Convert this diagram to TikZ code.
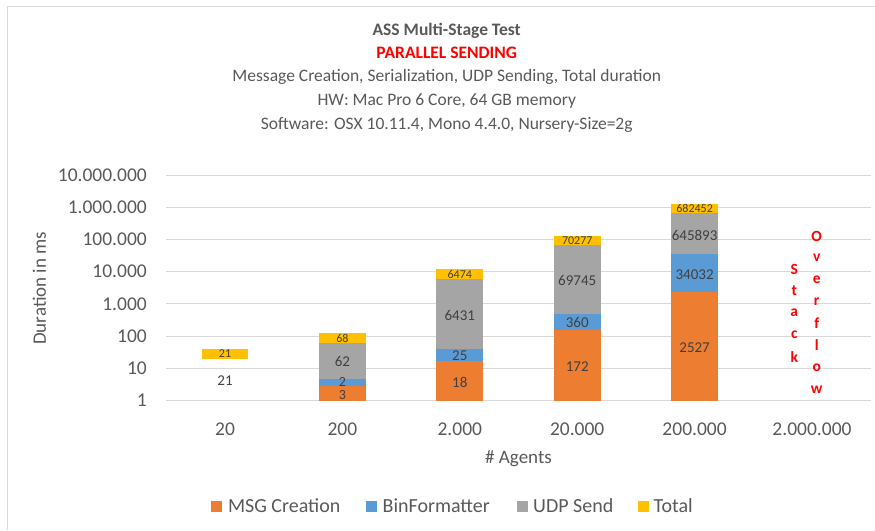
\documentclass[tikz,border=0pt]{standalone}
\usepackage{fontspec}
\setmainfont{Carlito}
\definecolor{txt}{HTML}{595959}
\definecolor{lbl}{HTML}{404040}
\definecolor{gridc}{HTML}{D9D9D9}
\definecolor{msg}{HTML}{ED7D31}
\definecolor{bin}{HTML}{5B9BD5}
\definecolor{udp}{HTML}{A5A5A5}
\definecolor{tot}{HTML}{FFC000}
\definecolor{alert}{HTML}{FF0000}
\newcommand{\fs}[1]{\fontsize{#1}{#1}\selectfont}
\tikzset{
  frameline/.style={draw=gridc, line width=1.2pt},
  gridline/.style={draw=gridc, line width=1pt},
  titletxt/.style={text=txt, font=\fs{17.5}\bfseries},
  subtxt/.style={text=txt, font=\fs{17.5}},
  ticklbl/.style={text=txt, font=\fs{19.5}, anchor=east, inner sep=0pt},
  axislbl/.style={text=txt, font=\fs{19}, inner sep=0pt},
  seglbl/.style={text=lbl, font=\fs{15}, inner sep=0pt},
  smallseg/.style={text=lbl, font=\fs{14}, inner sep=0pt},
  totlbl/.style={text=lbl, font=\fs{12}, inner sep=0pt},
  overflowtxt/.style={text=alert, font=\fs{15.5}\bfseries, inner sep=0pt},
  legbox/.style={minimum size=11pt, inner sep=0pt},
  legtxt/.style={text=txt, font=\fs{20}, anchor=west, inner sep=0pt},
}
% one stacked segment: centre x, top y, bottom y, colour
\newcommand{\barseg}[4]{\fill[#4] ({#1-23.35},#2) rectangle ({#1+23.35},#3);}
\begin{document}
\begin{tikzpicture}[x=1pt,y=-1pt]
\useasboundingbox (0,0) rectangle (875,530);
% chart frame
\draw[frameline] (7.5,530) -- (7.5,6.5) -- (875,6.5);

% titles
\node[titletxt] (t1) at (446.7,31) {ASS Multi-Stage Test};
\node[titletxt, text=alert] (t2) at (446.7,53.3) {PARALLEL SENDING};
\node[subtxt] (t3) at (446.7,77.3) {Message Creation, Serialization, UDP Sending, Total duration};
\node[subtxt] (t4) at (446.7,100.5) {HW: Mac Pro 6 Core, 64 GB memory};
\node[subtxt] (t5) at (446.7,124.5) {Software: OSX 10.11.4, Mono 4.4.0, Nursery-Size=2g};

% logarithmic grid and value axis labels
\foreach \lab [count=\k from 0] in {1,10,100,1.000,10.000,100.000,1.000.000,10.000.000}{
  \draw[gridline] (166,{400.7-32.24*\k}) -- (871,{400.7-32.24*\k});
  \node[ticklbl] (y\k) at (147,{400.7-32.24*\k}) {\lab};
}
\node[axislbl, rotate=90] (ytitle) at (39.3,288.3) {Duration in ms};

% bar: 20 agents
\barseg{225}{349}{359}{tot}
\node[totlbl] (b1t) at (225,354) {21};
\node[seglbl] (b1u) at (225,381) {21};

% bar: 200 agents
\barseg{342.4}{333.3}{342.7}{tot}
\barseg{342.4}{342.7}{379}{udp}
\barseg{342.4}{379}{386}{bin}
\barseg{342.4}{386}{400.7}{msg}
\node[totlbl] (b2t) at (342.4,338) {68};
\node[seglbl] (b2u) at (342.4,361.7) {62};
\node[smallseg] (b2b) at (342.4,381.5) {2};
\node[smallseg] (b2m) at (342.4,395.5) {3};

% bar: 2.000 agents
\barseg{459.8}{269}{279}{tot}
\barseg{459.8}{279}{349}{udp}
\barseg{459.8}{349}{361.3}{bin}
\barseg{459.8}{361.3}{400.7}{msg}
\node[totlbl] (b3t) at (459.8,274.5) {6474};
\node[seglbl] (b3u) at (459.8,315) {6431};
\node[seglbl] (b3b) at (459.8,356) {25};
\node[seglbl] (b3m) at (459.8,382) {18};

% bar: 20.000 agents
\barseg{577.2}{235.7}{245.3}{tot}
\barseg{577.2}{245.3}{313.7}{udp}
\barseg{577.2}{313.7}{329.7}{bin}
\barseg{577.2}{329.7}{400.7}{msg}
\node[totlbl] (b4t) at (577.2,241) {70277};
\node[seglbl] (b4u) at (577.2,280) {69745};
\node[seglbl] (b4b) at (577.2,322.7) {360};
\node[seglbl] (b4m) at (577.2,366.7) {172};

% bar: 200.000 agents
\barseg{694.6}{203.7}{213.3}{tot}
\barseg{694.6}{213.3}{254.3}{udp}
\barseg{694.6}{254.3}{291.7}{bin}
\barseg{694.6}{291.7}{400.7}{msg}
\node[totlbl] (b5t) at (694.6,208.5) {682452};
\node[seglbl] (b5u) at (694.6,235.7) {645893};
\node[seglbl] (b5b) at (694.6,274.3) {34032};
\node[seglbl] (b5m) at (694.6,347.7) {2527};

% 2.000.000 agents: no bar, vertical note
\foreach \c [count=\i from 0] in {S,t,a,c,k}
  \node[overflowtxt] (s\i) at (794.3,{269.3+21.85*\i}) {\c};
\foreach \c [count=\i from 0] in {O,v,e,r,f,l,o,w}
  \node[overflowtxt] (o\i) at (816.7,{236+21.9*\i}) {\c};

% category axis labels
\foreach \lab [count=\k from 0] in {20,200,2.000,20.000,200.000,2.000.000}
  \node[axislbl, font=\fs{19.5}] (x\k) at ({225+117.4*\k},429.5) {\lab};
\node[axislbl] (xtitle) at (518.5,458.3) {\# Agents};

% legend
\node[legbox, fill=msg] (l1) at (216.7,506) {};
\node[legtxt] (l1t) at (227.8,506) {MSG Creation};
\node[legbox, fill=bin] (l2) at (371.5,506) {};
\node[legtxt] (l2t) at (382.5,506) {BinFormatter};
\node[legbox, fill=udp] (l3) at (522,506) {};
\node[legtxt] (l3t) at (533,506) {UDP Send};
\node[legbox, fill=tot] (l4) at (643,506) {};
\node[legtxt] (l4t) at (653.5,506) {Total};
\end{tikzpicture}
\end{document}
